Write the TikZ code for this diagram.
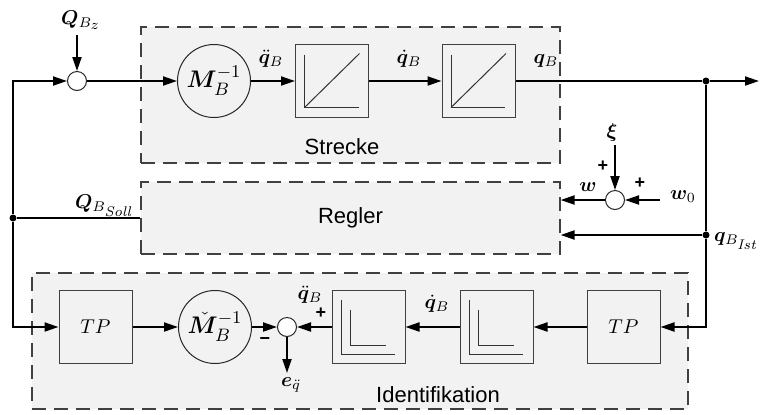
\documentclass[tikz,border=0pt]{standalone}
\usepackage{amsmath,bm}
\usepackage{fontspec}
\newfontfamily\labelfont{Liberation Sans}
\usetikzlibrary{arrows.meta, positioning, calc}
\definecolor{boxgray}{HTML}{F2F2F2}
\tikzstyle{region} = [rectangle, draw=black!75, fill=boxgray, line width=0.6pt, dash pattern=on 7pt off 4pt, inner sep=0pt, font=\labelfont\fontsize{11}{13}\selectfont]
\tikzstyle{block} = [rectangle, draw=black!75, fill=boxgray, line width=0.5pt, minimum width=36.5pt, minimum height=36.5pt, inner sep=0pt]
\tikzstyle{integrator} = [block, path picture={
    \draw[black!80, line width=0.5pt] ([shift={(4.5pt,-5pt)}]path picture bounding box.north west) |- ([shift={(-5pt,5pt)}]path picture bounding box.south east);
    \draw[black!80, line width=0.5pt] ([shift={(4.5pt,5pt)}]path picture bounding box.south west) -- ([shift={(-4.5pt,-4.5pt)}]path picture bounding box.north east);}]
\tikzstyle{differentiator} = [block, path picture={
    \draw[black!80, line width=0.5pt] ([shift={(4.5pt,-4.5pt)}]path picture bounding box.north west) |- ([shift={(-5pt,4.5pt)}]path picture bounding box.south east);
    \draw[black!80, line width=0.5pt] ([shift={(9pt,-9.5pt)}]path picture bounding box.north west) |- ([shift={(-9.5pt,9pt)}]path picture bounding box.south east);}]
\tikzstyle{gain} = [circle, draw=black!85, fill=boxgray, line width=0.5pt, minimum size=36.5pt, inner sep=0pt, font=\fontsize{13}{15}\selectfont]
\tikzstyle{sum} = [circle, draw=black!85, fill=white, line width=0.5pt, minimum size=9.5pt, inner sep=0pt]
\tikzstyle{dot} = [circle, fill=black, minimum size=3.5pt, inner sep=0pt]
\tikzstyle{sign} = [inner sep=0pt, font=\labelfont\bfseries\fontsize{9}{10}\selectfont]
\tikzstyle{line} = [line width=1pt]
\tikzstyle{arrow} = [line width=1pt, -{Triangle[length=7pt,width=4.5pt]}]

\begin{document}
\begin{tikzpicture}[x=0.5pt, y=-0.5pt]
    \useasboundingbox (0,0) rectangle (761,414);

    % Regions
    \node[region, minimum width=209.5pt, minimum height=68pt] (strecke) at (350.5,95) {};
    \node[region, minimum width=209.5pt, minimum height=36pt] (regler) at (350.5,218) {Regler};
    \node[region, minimum width=328pt, minimum height=68pt] (ident) at (360,341) {};
    \node[font=\labelfont\fontsize{11}{13}\selectfont] (streckelabel) at (342,147) {Strecke};
    \node[font=\labelfont\fontsize{11}{13}\selectfont] (identlabel) at (438,395) {Identifikation};

    % Components
    \node[sum] (sum1) at (77,81) {};
    \node[gain] (minv) at (214,81) {$\bm{M}_B^{-1}$};
    \node[integrator] (int1) at (332,81) {};
    \node[integrator] (int2) at (478.5,81) {};
    \node[dot] (branch) at (706,81) {};
    \node[dot] (ist) at (706,235) {};
    \node[dot] (split) at (13,218) {};
    \node[sum] (sum2) at (615,200) {};

    \node[block] (tp1) at (95.5,327) {$TP$};
    \node[gain] (mest) at (215,327) {$\check{\bm{M}}_B^{-1}$};
    \node[sum] (sum3) at (287,327) {};
    \node[differentiator] (diff1) at (368.5,327) {};
    \node[differentiator] (diff2) at (496.5,327) {};
    \node[block] (tp2) at (623.5,327) {$TP$};

    \coordinate (qbzin) at (77,35);
    \coordinate (out) at (759,81);
    \coordinate (xiin) at (615,145);
    \coordinate (w0in) at (660,200);
    \coordinate (eout) at (287,373);

    % Connections
    \draw[arrow] (qbzin) -- (sum1);
    \draw[arrow] (sum1) -- (minv);
    \draw[arrow] (minv) -- (int1);
    \draw[arrow] (int1) -- (int2);
    \draw[line] (int2) -- (branch);
    \draw[arrow] (branch) -- (out);
    \draw[line] (branch) -- (ist);
    \draw[arrow] (ist) -- (regler.east |- ist);
    \draw[arrow] (ist) |- (tp2);
    \draw[arrow] (xiin) -- (sum2);
    \draw[arrow] (w0in) -- (sum2);
    \draw[arrow] (sum2) -- (regler.east |- sum2);
    \draw[line] (regler.west |- split) -- (split);
    \draw[arrow] (split) |- (sum1);
    \draw[arrow] (split) |- (tp1);
    \draw[arrow] (tp1) -- (mest);
    \draw[arrow] (mest) -- (sum3);
    \draw[arrow] (tp2) -- (diff2);
    \draw[arrow] (diff2) -- (diff1);
    \draw[arrow] (diff1) -- (sum3);
    \draw[arrow] (sum3) -- (eout);

    % Labels
    \node (qbz) at (81,20) {$\bm{Q}_{B_{\scriptstyle z}}$};
    \node (qddtop) at (271,59) {$\ddot{\bm{q}}_B$};
    \node (qdtop) at (409,59) {$\dot{\bm{q}}_B$};
    \node (qtop) at (546,61) {$\bm{q}_B$};
    \node (xi) at (612,132) {$\bm{\xi}$};
    \node[sign] (plusxi) at (603,166) {+};
    \node (w) at (588,187) {$\bm{w}$};
    \node[sign] (plusw0) at (640,183) {+};
    \node (w0) at (683,197) {$\bm{w}_0$};
    \node (qist) at (736,241) {$\bm{q}_{B_{\scriptstyle\mathit{Ist}}}$};
    \node (qsoll) at (104,206) {$\bm{Q}_{B_{\scriptstyle\mathit{Soll}}}$};
    \node (qddbot) at (310,295) {$\ddot{\bm{q}}_B$};
    \node[sign] (plusbot) at (321,313) {+};
    \node[sign] (minusbot) at (265,341) {\textminus};
    \node (eq) at (291,385) {$\bm{e}_{\ddot{q}}$};
    \node (qdbot) at (437,304) {$\dot{\bm{q}}_B$};
\end{tikzpicture}
\end{document}
